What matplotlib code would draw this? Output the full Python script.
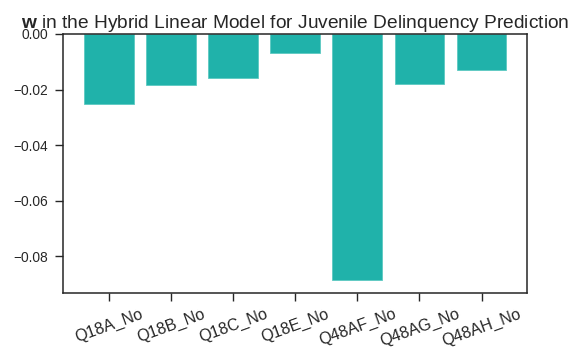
import matplotlib
matplotlib.use("Agg")
import matplotlib.pyplot as plt
import seaborn as sns

features = ["Q18A_No", "Q18B_No", "Q18C_No", "Q18E_No", "Q48AF_No", "Q48AG_No", "Q48AH_No"]
weights = [-0.0253, -0.0184, -0.0159, -0.0068, -0.0887, -0.0181, -0.0129]

sns.set_style("ticks")
plt.rcParams["font.family"] = ["Liberation Sans", "DejaVu Sans"]
plt.rcParams["mathtext.fontset"] = "custom"
plt.rcParams["mathtext.rm"] = "Liberation Sans"
plt.rcParams["mathtext.bf"] = "Liberation Sans:bold"

DPI = 100
fig = plt.figure(figsize=(5.71, 3.49), dpi=DPI)
ax = fig.add_axes([0.1103, 0.1613, 0.8135, 0.7413])

x = list(range(len(features)))
ax.bar(x, weights, width=0.8, color="#20B2AA", edgecolor="#5cc9c2", linewidth=0.6)

ax.set_xticks(x)
ax.set_xticklabels(features, rotation=20, ha="center", fontsize=11.6, color=".15")
ax.tick_params(axis="y", labelsize=9.9, colors=".15", length=5.5, width=1, pad=5)
ax.tick_params(axis="x", length=5.5, width=1, colors=".15", pad=4.5)
ax.set_yticks([0.0, -0.02, -0.04, -0.06, -0.08])
ax.set_yticklabels(["0.00", "\u22120.02", "\u22120.04", "\u22120.06", "\u22120.08"])

for s in ax.spines.values():
    s.set_color(".15")
    s.set_linewidth(1.1)

ax.set_title(r"$\mathbf{w}$ in the Hybrid Linear Model for Juvenile Delinquency Prediction",
             fontsize=13.8, color=".15", pad=4)

fig.savefig("out.png", dpi=DPI)
